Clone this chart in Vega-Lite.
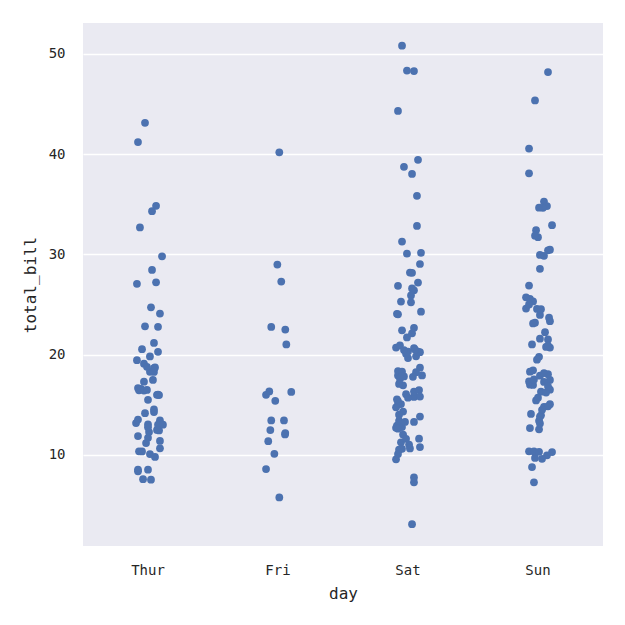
{
  "$schema": "https://vega.github.io/schema/vega-lite/v6.json",
  "autosize": {"type": "none"},
  "padding": {"left": 83, "top": 23, "right": 22, "bottom": 79},
  "width": 520,
  "height": 523,
  "background": "white",
  "config": {
    "view": {"fill": "#EAEAF2", "stroke": null},
    "font": "DejaVu Sans Mono"
  },
  "data": {"values": [
    {"day":"Thur","total_bill":27.20,"jitter":0.062},{"day":"Thur","total_bill":22.76,"jitter":0.077},{"day":"Thur","total_bill":17.29,"jitter":-0.031},{"day":"Thur","total_bill":19.44,"jitter":-0.085},{"day":"Thur","total_bill":16.66,"jitter":-0.077},{"day":"Thur","total_bill":10.07,"jitter":0.015},{"day":"Thur","total_bill":32.68,"jitter":-0.062},{"day":"Thur","total_bill":15.98,"jitter":0.069},{"day":"Thur","total_bill":34.83,"jitter":0.062},{"day":"Thur","total_bill":13.03,"jitter":0.0},{"day":"Thur","total_bill":18.28,"jitter":0.015},{"day":"Thur","total_bill":24.71,"jitter":0.023},{"day":"Thur","total_bill":21.16,"jitter":0.046},
    {"day":"Thur","total_bill":10.65,"jitter":0.092},{"day":"Thur","total_bill":12.43,"jitter":0.085},{"day":"Thur","total_bill":24.08,"jitter":0.092},{"day":"Thur","total_bill":11.69,"jitter":0.0},{"day":"Thur","total_bill":13.42,"jitter":0.092},{"day":"Thur","total_bill":14.26,"jitter":0.046},{"day":"Thur","total_bill":15.95,"jitter":0.085},{"day":"Thur","total_bill":12.48,"jitter":0.069},{"day":"Thur","total_bill":29.80,"jitter":0.108},{"day":"Thur","total_bill":8.52,"jitter":-0.077},{"day":"Thur","total_bill":14.52,"jitter":0.046},{"day":"Thur","total_bill":11.38,"jitter":0.092},{"day":"Thur","total_bill":22.82,"jitter":-0.023},{"day":"Thur","total_bill":19.08,"jitter":-0.031},{"day":"Thur","total_bill":20.27,"jitter":0.077},{"day":"Thur","total_bill":11.17,"jitter":-0.015},{"day":"Thur","total_bill":12.26,"jitter":0.008},{"day":"Thur","total_bill":18.26,"jitter":0.046},{"day":"Thur","total_bill":8.51,"jitter":0.0},{"day":"Thur","total_bill":10.33,"jitter":-0.046},{"day":"Thur","total_bill":14.15,"jitter":-0.023},{"day":"Thur","total_bill":16.00,"jitter":0.077},{"day":"Thur","total_bill":13.16,"jitter":-0.092},{"day":"Thur","total_bill":17.47,"jitter":0.038},{"day":"Thur","total_bill":34.30,"jitter":0.031},{"day":"Thur","total_bill":41.19,"jitter":-0.077},{"day":"Thur","total_bill":27.05,"jitter":-0.085},{"day":"Thur","total_bill":16.43,"jitter":-0.069},{"day":"Thur","total_bill":8.35,"jitter":-0.077},{"day":"Thur","total_bill":18.64,"jitter":0.046},{"day":"Thur","total_bill":11.87,"jitter":-0.077},{"day":"Thur","total_bill":9.78,"jitter":0.054},{"day":"Thur","total_bill":7.51,"jitter":0.023},
    {"day":"Thur","total_bill":19.81,"jitter":0.015},{"day":"Thur","total_bill":28.44,"jitter":0.031},{"day":"Thur","total_bill":15.48,"jitter":0.0},{"day":"Thur","total_bill":16.58,"jitter":-0.054},{"day":"Thur","total_bill":7.56,"jitter":-0.038},{"day":"Thur","total_bill":10.34,"jitter":-0.069},{"day":"Thur","total_bill":43.11,"jitter":-0.023},{"day":"Thur","total_bill":13.00,"jitter":0.077},{"day":"Thur","total_bill":13.51,"jitter":-0.077},{"day":"Thur","total_bill":18.71,"jitter":0.054},{"day":"Thur","total_bill":12.74,"jitter":0.0},{"day":"Thur","total_bill":13.00,"jitter":0.115},{"day":"Thur","total_bill":16.40,"jitter":-0.031},{"day":"Thur","total_bill":20.53,"jitter":-0.046},{"day":"Thur","total_bill":16.47,"jitter":-0.008},{"day":"Thur","total_bill":18.78,"jitter":-0.008},
    {"day":"Fri","total_bill":28.97,"jitter":-0.005},{"day":"Fri","total_bill":22.49,"jitter":0.056},{"day":"Fri","total_bill":5.75,"jitter":0.01},{"day":"Fri","total_bill":16.32,"jitter":-0.067},{"day":"Fri","total_bill":22.75,"jitter":-0.052},{"day":"Fri","total_bill":40.17,"jitter":0.01},{"day":"Fri","total_bill":27.28,"jitter":0.025},{"day":"Fri","total_bill":12.03,"jitter":0.054},{"day":"Fri","total_bill":21.01,"jitter":0.064},{"day":"Fri","total_bill":12.46,"jitter":-0.059},{"day":"Fri","total_bill":11.35,"jitter":-0.075},{"day":"Fri","total_bill":15.38,"jitter":-0.021},{"day":"Fri","total_bill":12.16,"jitter":0.056},{"day":"Fri","total_bill":13.42,"jitter":-0.052},{"day":"Fri","total_bill":8.58,"jitter":-0.092},{"day":"Fri","total_bill":15.98,"jitter":-0.092},{"day":"Fri","total_bill":13.42,"jitter":0.046},{"day":"Fri","total_bill":16.27,"jitter":0.102},{"day":"Fri","total_bill":10.09,"jitter":-0.028},
    {"day":"Sat","total_bill":20.65,"jitter":0.046},{"day":"Sat","total_bill":17.92,"jitter":-0.077},{"day":"Sat","total_bill":20.29,"jitter":0.077},{"day":"Sat","total_bill":15.77,"jitter":0.046},{"day":"Sat","total_bill":39.42,"jitter":0.077},{"day":"Sat","total_bill":19.82,"jitter":0.062},{"day":"Sat","total_bill":17.81,"jitter":-0.031},{"day":"Sat","total_bill":13.37,"jitter":-0.069},{"day":"Sat","total_bill":12.69,"jitter":-0.092},{"day":"Sat","total_bill":21.70,"jitter":-0.008},{"day":"Sat","total_bill":19.65,"jitter":0.0},{"day":"Sat","total_bill":9.55,"jitter":-0.092},{"day":"Sat","total_bill":18.35,"jitter":-0.077},{"day":"Sat","total_bill":15.06,"jitter":-0.054},{"day":"Sat","total_bill":20.69,"jitter":-0.092},{"day":"Sat","total_bill":17.78,"jitter":0.038},{"day":"Sat","total_bill":24.06,"jitter":-0.085},{"day":"Sat","total_bill":16.31,"jitter":0.046},{"day":"Sat","total_bill":16.93,"jitter":-0.038},{"day":"Sat","total_bill":18.69,"jitter":0.092},{"day":"Sat","total_bill":31.27,"jitter":-0.046},{"day":"Sat","total_bill":16.04,"jitter":-0.015},
    {"day":"Sat","total_bill":38.01,"jitter":0.031},{"day":"Sat","total_bill":26.41,"jitter":0.046},{"day":"Sat","total_bill":11.24,"jitter":-0.054},{"day":"Sat","total_bill":48.27,"jitter":0.046},{"day":"Sat","total_bill":20.29,"jitter":0.0},{"day":"Sat","total_bill":13.81,"jitter":0.092},{"day":"Sat","total_bill":11.02,"jitter":0.008},{"day":"Sat","total_bill":18.29,"jitter":-0.046},{"day":"Sat","total_bill":17.59,"jitter":-0.062},{"day":"Sat","total_bill":20.08,"jitter":-0.015},{"day":"Sat","total_bill":16.45,"jitter":0.085},{"day":"Sat","total_bill":3.07,"jitter":0.031},{"day":"Sat","total_bill":20.23,"jitter":0.092},{"day":"Sat","total_bill":15.01,"jitter":-0.077},{"day":"Sat","total_bill":12.02,"jitter":-0.038},{"day":"Sat","total_bill":17.07,"jitter":-0.069},{"day":"Sat","total_bill":26.86,"jitter":-0.077},{"day":"Sat","total_bill":25.28,"jitter":-0.054},{"day":"Sat","total_bill":14.73,"jitter":-0.092},{"day":"Sat","total_bill":10.51,"jitter":-0.069},{"day":"Sat","total_bill":17.92,"jitter":0.108},
    {"day":"Sat","total_bill":44.30,"jitter":-0.077},{"day":"Sat","total_bill":22.42,"jitter":-0.046},{"day":"Sat","total_bill":20.92,"jitter":-0.062},{"day":"Sat","total_bill":15.36,"jitter":-0.077},{"day":"Sat","total_bill":20.49,"jitter":0.054},{"day":"Sat","total_bill":25.21,"jitter":0.023},{"day":"Sat","total_bill":18.24,"jitter":0.062},{"day":"Sat","total_bill":14.31,"jitter":-0.038},{"day":"Sat","total_bill":14.00,"jitter":-0.069},{"day":"Sat","total_bill":7.25,"jitter":0.046},
    {"day":"Sat","total_bill":10.59,"jitter":-0.046},{"day":"Sat","total_bill":10.63,"jitter":0.015},{"day":"Sat","total_bill":50.81,"jitter":-0.046},{"day":"Sat","total_bill":15.81,"jitter":0.092},
    {"day":"Sat","total_bill":26.59,"jitter":0.031},{"day":"Sat","total_bill":38.73,"jitter":-0.031},{"day":"Sat","total_bill":24.27,"jitter":0.1},{"day":"Sat","total_bill":12.76,"jitter":-0.046},{"day":"Sat","total_bill":30.06,"jitter":-0.008},{"day":"Sat","total_bill":25.89,"jitter":0.023},{"day":"Sat","total_bill":48.33,"jitter":-0.008},{"day":"Sat","total_bill":13.27,"jitter":0.046},{"day":"Sat","total_bill":28.17,"jitter":0.015},{"day":"Sat","total_bill":12.90,"jitter":-0.085},{"day":"Sat","total_bill":28.15,"jitter":0.031},{"day":"Sat","total_bill":11.59,"jitter":-0.015},{"day":"Sat","total_bill":7.74,"jitter":0.046},{"day":"Sat","total_bill":30.14,"jitter":0.1},
    {"day":"Sat","total_bill":20.45,"jitter":-0.031},{"day":"Sat","total_bill":13.28,"jitter":-0.023},{"day":"Sat","total_bill":22.12,"jitter":0.031},{"day":"Sat","total_bill":24.01,"jitter":-0.077},{"day":"Sat","total_bill":15.69,"jitter":0.0},{"day":"Sat","total_bill":11.61,"jitter":0.085},{"day":"Sat","total_bill":10.77,"jitter":0.092},{"day":"Sat","total_bill":15.53,"jitter":-0.085},{"day":"Sat","total_bill":10.07,"jitter":-0.077},{"day":"Sat","total_bill":12.60,"jitter":-0.077},{"day":"Sat","total_bill":32.83,"jitter":0.069},{"day":"Sat","total_bill":35.83,"jitter":0.069},{"day":"Sat","total_bill":29.03,"jitter":0.092},{"day":"Sat","total_bill":27.18,"jitter":0.077},{"day":"Sat","total_bill":22.67,"jitter":0.046},{"day":"Sat","total_bill":17.82,"jitter":-0.046},
    {"day":"Sun","total_bill":16.99,"jitter":-0.062},{"day":"Sun","total_bill":10.34,"jitter":-0.069},{"day":"Sun","total_bill":21.01,"jitter":-0.046},{"day":"Sun","total_bill":23.68,"jitter":0.085},{"day":"Sun","total_bill":24.59,"jitter":-0.092},{"day":"Sun","total_bill":25.29,"jitter":-0.038},{"day":"Sun","total_bill":8.77,"jitter":-0.046},{"day":"Sun","total_bill":26.88,"jitter":-0.069},{"day":"Sun","total_bill":15.04,"jitter":0.092},{"day":"Sun","total_bill":14.78,"jitter":0.046},{"day":"Sun","total_bill":10.27,"jitter":0.108},{"day":"Sun","total_bill":35.26,"jitter":0.046},{"day":"Sun","total_bill":15.42,"jitter":-0.015},{"day":"Sun","total_bill":18.43,"jitter":-0.038},{"day":"Sun","total_bill":14.83,"jitter":0.077},{"day":"Sun","total_bill":21.58,"jitter":0.015},{"day":"Sun","total_bill":10.33,"jitter":-0.031},{"day":"Sun","total_bill":16.29,"jitter":0.023},{"day":"Sun","total_bill":16.97,"jitter":-0.038},
    {"day":"Sun","total_bill":17.46,"jitter":0.092},{"day":"Sun","total_bill":13.94,"jitter":0.023},{"day":"Sun","total_bill":9.68,"jitter":-0.023},{"day":"Sun","total_bill":30.40,"jitter":0.077},{"day":"Sun","total_bill":18.29,"jitter":-0.062},{"day":"Sun","total_bill":22.23,"jitter":0.054},{"day":"Sun","total_bill":32.40,"jitter":-0.015},{"day":"Sun","total_bill":28.55,"jitter":0.015},{"day":"Sun","total_bill":18.04,"jitter":0.077},{"day":"Sun","total_bill":12.54,"jitter":0.008},{"day":"Sun","total_bill":10.29,"jitter":0.008},{"day":"Sun","total_bill":34.81,"jitter":0.069},{"day":"Sun","total_bill":9.94,"jitter":0.069},{"day":"Sun","total_bill":25.56,"jitter":-0.062},{"day":"Sun","total_bill":19.49,"jitter":-0.008},
    {"day":"Sun","total_bill":38.07,"jitter":-0.069},{"day":"Sun","total_bill":23.95,"jitter":0.015},{"day":"Sun","total_bill":25.71,"jitter":-0.092},{"day":"Sun","total_bill":17.31,"jitter":-0.069},{"day":"Sun","total_bill":29.93,"jitter":0.015},
    {"day":"Sun","total_bill":14.07,"jitter":-0.054},{"day":"Sun","total_bill":13.13,"jitter":0.015},{"day":"Sun","total_bill":17.26,"jitter":0.046},{"day":"Sun","total_bill":24.55,"jitter":-0.008},{"day":"Sun","total_bill":19.77,"jitter":0.008},{"day":"Sun","total_bill":29.85,"jitter":0.046},{"day":"Sun","total_bill":48.17,"jitter":0.077},{"day":"Sun","total_bill":25.00,"jitter":-0.069},{"day":"Sun","total_bill":13.39,"jitter":0.008},{"day":"Sun","total_bill":16.49,"jitter":0.092},{"day":"Sun","total_bill":21.50,"jitter":0.077},{"day":"Sun","total_bill":12.66,"jitter":-0.062},{"day":"Sun","total_bill":16.21,"jitter":0.062},{"day":"Sun","total_bill":13.81,"jitter":0.015},{"day":"Sun","total_bill":17.51,"jitter":-0.031},{"day":"Sun","total_bill":24.52,"jitter":0.023},{"day":"Sun","total_bill":20.76,"jitter":0.062},{"day":"Sun","total_bill":31.71,"jitter":0.0},
    {"day":"Sun","total_bill":7.25,"jitter":-0.031},{"day":"Sun","total_bill":31.85,"jitter":-0.023},{"day":"Sun","total_bill":16.82,"jitter":0.077},{"day":"Sun","total_bill":32.90,"jitter":0.108},{"day":"Sun","total_bill":17.89,"jitter":0.015},{"day":"Sun","total_bill":14.48,"jitter":0.031},{"day":"Sun","total_bill":9.60,"jitter":0.031},{"day":"Sun","total_bill":34.63,"jitter":0.038},{"day":"Sun","total_bill":34.65,"jitter":0.008},{"day":"Sun","total_bill":23.33,"jitter":0.092},{"day":"Sun","total_bill":45.35,"jitter":-0.023},{"day":"Sun","total_bill":23.17,"jitter":-0.023},{"day":"Sun","total_bill":40.55,"jitter":-0.069},{"day":"Sun","total_bill":20.69,"jitter":0.092},{"day":"Sun","total_bill":20.90,"jitter":0.077},{"day":"Sun","total_bill":30.46,"jitter":0.092},{"day":"Sun","total_bill":18.15,"jitter":0.046},{"day":"Sun","total_bill":23.10,"jitter":-0.038},{"day":"Sun","total_bill":15.69,"jitter":0.0}
  ]},
  "mark": {"type": "circle", "size": 60, "opacity": 1, "color": "#4C72B0"},
  "encoding": {
    "x": {
      "field": "day", "type": "nominal", "sort": ["Thur", "Fri", "Sat", "Sun"],
      "scale": {"paddingInner": 0, "paddingOuter": 0},
      "axis": {"labelAngle": 0, "grid": false, "domain": false, "ticks": false, "labelPadding": 17, "labelFontSize": 14, "labelColor": "#262626", "title": "day", "titleFontSize": 16, "titleFontWeight": "normal", "titleColor": "#262626", "titlePadding": 8}
    },
    "xOffset": {"field": "jitter", "type": "quantitative", "scale": {"domain": [-0.5, 0.5]}},
    "y": {
      "field": "total_bill", "type": "quantitative",
      "scale": {"domain": [0.9, 53.07], "nice": false, "zero": false},
      "axis": {"values": [10, 20, 30, 40, 50], "grid": true, "gridColor": "white", "gridWidth": 1.4, "domain": false, "ticks": false, "labelPadding": 18, "labelFontSize": 14, "labelColor": "#262626", "title": "total_bill", "titleFontSize": 16, "titleFontWeight": "normal", "titleColor": "#262626", "titlePadding": 10}
    }
  }
}
